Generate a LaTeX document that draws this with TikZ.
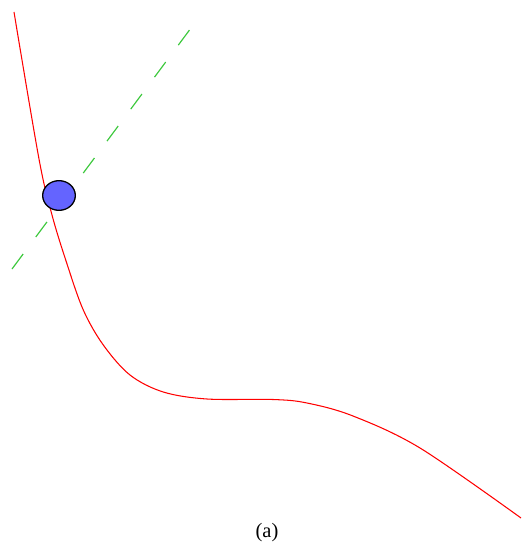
\documentclass[tikz,border=0pt]{standalone}
\usepackage{fontspec}
\setmainfont{Liberation Serif}
\usetikzlibrary{shapes.geometric}
\definecolor{curvered}{RGB}{255,0,0}
\definecolor{tanggreen}{RGB}{60,200,60}
\definecolor{dotblue}{RGB}{100,100,255}

\begin{document}
\begin{tikzpicture}[
    x=0.03cm,y=-0.03cm,
    curve/.style={draw=curvered,line width=0.9pt},
    tangent/.style={draw=tanggreen,line width=1pt,dash pattern=on 16pt off 18pt},
    dot/.style={ellipse,draw,fill=dotblue,line width=1.1pt,inner sep=0pt,
                minimum width=0.98cm,minimum height=0.89cm},
    caption/.style={font=\fontsize{17.5}{20}\selectfont}
  ]
    \useasboundingbox (0,0) rectangle (522,545);
    \draw[curve] plot[smooth,tension=0.55] coordinates {
      (14,12) (39,159) (52,215) (66.7,263) (83.3,310) (103.3,345)
      (130,375) (163.3,392) (207,399) (273,399.5) (307,403) (353,416)
      (420,448) (521,518)};
    \coordinate (t1) at (12,269);
    \coordinate (t2) at (191,28);
    \draw[tangent] (t1) -- (t2);
    \node[dot] (P) at (59,195.5) {};
    \node[caption] (lbl) at (267,533) {(a)};
  \end{tikzpicture}
\end{document}
